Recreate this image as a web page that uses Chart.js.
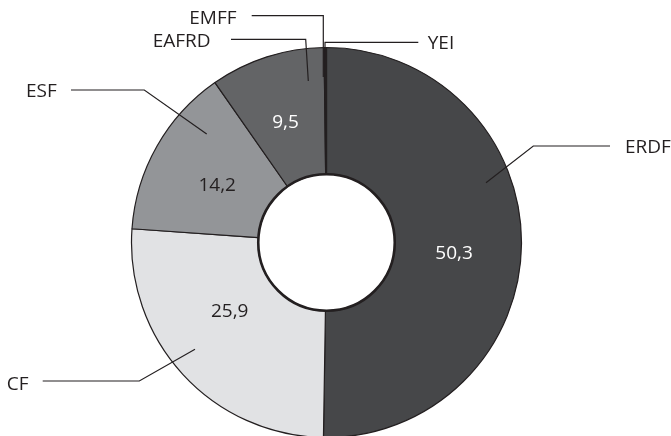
<!DOCTYPE html>
<html>
<head>
<meta charset="utf-8">
<script src="https://cdn.jsdelivr.net/npm/chart.js@4.4.1/dist/chart.umd.min.js"></script>
<style>
  html, body { margin: 0; padding: 0; background: #ffffff; }
  #wrap { width: 671px; height: 436px; position: relative; }
</style>
</head>
<body>
<div id="wrap"><canvas id="c" width="671" height="436"></canvas></div>
<script>
// ---- data ----
const categories = ['ERDF', 'CF', 'ESF', 'EAFRD', 'EMFF', 'YEI'];
const shares = [50.3, 25.9, 14.2, 9.5, 0.1, 0.1];
const valueLabels = ['50,3', '25,9', '14,2', '9,5', '', ''];

// ---- styling ----
const sliceColors = ['#464749', '#e1e2e4', '#939598', '#636466', '#231f20', '#231f20'];
const valueTextColors = ['#ffffff', '#231f20', '#231f20', '#ffffff', '#231f20', '#231f20'];
const ink = '#231f20';
const FONT = '"Open Sans", "DejaVu Sans", sans-serif';
const FS = 19;

// value-label placement: angle nudge (deg) and radius as fraction of outer radius
const valuePlacement = [
  { dA: 3.8, r: 0.656 },
  { dA: 7.5, r: 0.606 },
  { dA: -1.7, r: 0.634 },
  { dA: -0.9, r: 0.656 },
  null, null
];

// leader lines: offsets from chart centre, in pixels at outer radius 195
const leaders = [
  { anchor: [159.5, -59.8], elbow: [206.8, -96.5], end: [283.5, -96.5], textX: 298.5, textY: -96.6 },
  { anchor: [-131.5, 106.8], elbow: [-187.2, 138.5], end: [-283.8, 138.5], textX: -319.8, textY: 140.8 },
  { anchor: [-119.8, -108.5], elbow: [-182.2, -152.5], end: [-255.5, -152.5], textX: -300.5, textY: -152.5 },
  { anchor: [-18.2, -161.5], elbow: [-20.8, -203.2], end: [-95.5, -203.2], textX: -173.8, textY: -202.5 },
  { anchor: [-3.2, -165.5], elbow: [-3.2, -226.8], end: [-74.8, -226.8], textX: -137.2, textY: -225.5 },
  { anchor: [-1.5, -182.5], elbow: [-1.5, -200.2], end: [91.8, -200.2], textX: 101.2, textY: -200.0 }
];

const overlay = {
  id: 'overlay',
  afterDatasetsDraw(chart) {
    const ctx = chart.ctx;
    const arcs = chart.getDatasetMeta(0).data;
    const a0 = arcs[0];
    const cx = a0.x, cy = a0.y;
    const outer = a0.outerRadius, inner = a0.innerRadius;
    const k = outer / 195;

    ctx.save();
    // hole border
    ctx.beginPath();
    ctx.arc(cx, cy, inner, 0, Math.PI * 2);
    ctx.lineWidth = 2.6;
    ctx.strokeStyle = ink;
    ctx.stroke();

    // value labels
    ctx.font = FS + 'px ' + FONT;
    ctx.textAlign = 'center';
    ctx.textBaseline = 'alphabetic';
    const capHalf = FS * 0.357;
    arcs.forEach((arc, i) => {
      const p = valuePlacement[i];
      if (!p || !valueLabels[i]) return;
      const mid = (arc.startAngle + arc.endAngle) / 2 + p.dA * Math.PI / 180;
      const r = p.r * outer;
      const x = cx + r * Math.cos(mid);
      const y = cy + r * Math.sin(mid);
      ctx.fillStyle = valueTextColors[i];
      ctx.fillText(valueLabels[i], x, y + capHalf);
    });

    // leader lines and category labels
    ctx.strokeStyle = ink;
    ctx.lineWidth = 1.2;
    ctx.fillStyle = ink;
    ctx.textAlign = 'left';
    leaders.forEach((L, i) => {
      ctx.beginPath();
      ctx.moveTo(cx + L.anchor[0] * k, cy + L.anchor[1] * k);
      ctx.lineTo(cx + L.elbow[0] * k, cy + L.elbow[1] * k);
      ctx.lineTo(cx + L.end[0] * k, cy + L.end[1] * k);
      ctx.stroke();
      ctx.fillText(categories[i], cx + L.textX * k, cy + L.textY * k + capHalf);
    });
    ctx.restore();
  }
};

new Chart(document.getElementById('c'), {
  type: 'doughnut',
  data: {
    labels: categories,
    datasets: [{
      data: shares,
      backgroundColor: sliceColors,
      borderColor: ink,
      borderWidth: 1.2,
      hoverOffset: 0
    }]
  },
  options: {
    responsive: false,
    maintainAspectRatio: false,
    animation: false,
    radius: 195,
    cutout: '35%',
    rotation: 0,
    layout: { padding: { left: 0, right: 18, top: 49, bottom: 0 } },
    plugins: {
      legend: { display: false },
      tooltip: { enabled: false }
    },
    events: []
  },
  plugins: [overlay]
});
</script>
</body>
</html>
